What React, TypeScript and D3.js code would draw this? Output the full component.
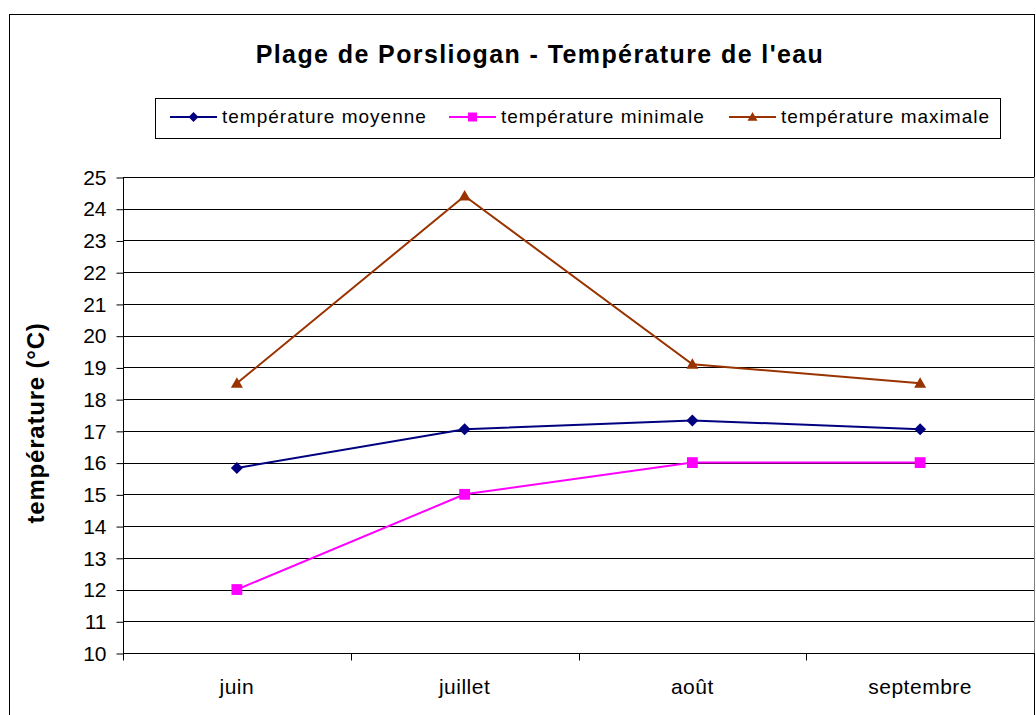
import React, { useEffect, useRef } from 'react';
import * as d3 from 'd3';

const months = ['juin', 'juillet', 'août', 'septembre'];
const moyenne = [15.83, 17.05, 17.33, 17.05];
const minimale = [12, 15, 16, 16];
const maximale = [18.5, 24.4, 19.1, 18.5];
const yTicks = d3.range(10, 26);

const seriesInfo = [
  { name: 'température moyenne', values: moyenne, color: '#000080', marker: 'diamond' },
  { name: 'température minimale', values: minimale, color: '#FF00FF', marker: 'square' },
  { name: 'température maximale', values: maximale, color: '#993300', marker: 'triangle' },
];

const FONT = 'Arial, "Liberation Sans", Helvetica, sans-serif';

const App = () => {
  const svgRef = useRef<SVGSVGElement>(null);

  useEffect(() => {
    const svg = d3.select(svgRef.current);
    svg.selectAll('*').remove();

    // zone du graphique
    const left = 123, right = 1034, top = 177, bottom = 653;

    const x = d3.scaleBand<string>().domain(months).range([left, right]);
    const y = d3.scaleLinear().domain([10, 25]).range([bottom, top]);

    // cadre extérieur
    svg.append('rect')
      .attr('x', 9.5).attr('y', 14.5)
      .attr('width', 1025).attr('height', 720)
      .attr('fill', 'white').attr('stroke', '#000').attr('stroke-width', 1);

    // titre
    svg.append('text')
      .attr('x', 540).attr('y', 63)
      .attr('text-anchor', 'middle')
      .style('font', `bold 25px ${FONT}`)
      .style('letter-spacing', '1.4px')
      .text("Plage de Porsliogan - Température de l'eau");

    // cadre du tracé
    svg.append('rect')
      .attr('x', left + 0.5).attr('y', top + 0.5)
      .attr('width', right - left).attr('height', bottom - top)
      .attr('fill', 'white').attr('stroke', '#808080');

    // lignes de grille
    svg.append('g')
      .selectAll('line')
      .data(yTicks.slice(1))
      .enter().append('line')
      .attr('x1', left).attr('x2', right)
      .attr('y1', d => Math.round(y(d)) + 0.5)
      .attr('y2', d => Math.round(y(d)) + 0.5)
      .attr('stroke', '#000');

    // axe y
    const yAxis = svg.append('g')
      .attr('transform', `translate(${left + 0.5},0.5)`)
      .call(d3.axisLeft(y).tickValues(yTicks).tickSize(7).tickPadding(10).tickFormat(d3.format('d')));
    yAxis.select('.domain').attr('stroke', '#000').attr('d', `M0,${top}V${bottom}`);
    yAxis.selectAll('.tick line').attr('stroke', '#000');
    yAxis.selectAll('.tick text')
      .attr('fill', '#000')
      .style('font', `21px ${FONT}`);

    // axe x
    const xAxis = svg.append('g')
      .attr('transform', `translate(0,${bottom + 0.5})`);
    xAxis.append('line')
      .attr('x1', left).attr('x2', right + 1)
      .attr('stroke', '#000');
    const boundaries = months.map(m => x(m) as number).concat([right]);
    xAxis.selectAll('.xt')
      .data(boundaries)
      .enter().append('line')
      .attr('class', 'xt')
      .attr('x1', d => Math.round(d) + 0.5).attr('x2', d => Math.round(d) + 0.5)
      .attr('y1', 0).attr('y2', 7)
      .attr('stroke', '#000');
    xAxis.selectAll('text')
      .data(months)
      .enter().append('text')
      .attr('x', d => (x(d) as number) + x.bandwidth() / 2)
      .attr('y', 40)
      .attr('text-anchor', 'middle')
      .style('font', `21px ${FONT}`)
      .style('letter-spacing', '0.5px')
      .text(d => d);

    // titre axe y
    svg.append('text')
      .attr('transform', `translate(44,${(top + bottom) / 2 + 8}) rotate(-90)`)
      .attr('text-anchor', 'middle')
      .style('font', `bold 24px ${FONT}`)
      .style('letter-spacing', '0.8px')
      .text('température (°C)');

    const cx = (i: number) => (x(months[i]) as number) + x.bandwidth() / 2;

    const drawMarker = (g: any, kind: string, color: string, px: number, py: number, s: number) => {
      if (kind === 'diamond') {
        g.append('path')
          .attr('d', `M${px},${py - s}L${px + s},${py}L${px},${py + s}L${px - s},${py}Z`)
          .attr('fill', color);
      } else if (kind === 'square') {
        g.append('rect')
          .attr('x', px - s * 0.9).attr('y', py - s * 0.9)
          .attr('width', s * 1.8).attr('height', s * 1.8)
          .attr('fill', color);
      } else {
        g.append('path')
          .attr('d', `M${px},${py - s}L${px + s},${py + s * 0.75}L${px - s},${py + s * 0.75}Z`)
          .attr('fill', color);
      }
    };

    // séries
    const line = d3.line<number>().x((d, i) => cx(i)).y(d => y(d));
    seriesInfo.forEach(s => {
      const g = svg.append('g');
      g.append('path')
        .datum(s.values)
        .attr('d', line)
        .attr('fill', 'none')
        .attr('stroke', s.color)
        .attr('stroke-width', 2);
      s.values.forEach((v, i) => drawMarker(g, s.marker, s.color, cx(i), y(v), 6));
    });

    // légende
    svg.append('rect')
      .attr('x', 155.5).attr('y', 98.5)
      .attr('width', 845).attr('height', 40)
      .attr('fill', 'white').attr('stroke', '#000');
    const legendX = [170, 449, 729];
    seriesInfo.forEach((s, i) => {
      const g = svg.append('g');
      const lx = legendX[i];
      g.append('line')
        .attr('x1', lx).attr('x2', lx + 47)
        .attr('y1', 117).attr('y2', 117)
        .attr('stroke', s.color).attr('stroke-width', 2);
      drawMarker(g, s.marker, s.color, lx + 23.5, 117, 5);
      g.append('text')
        .attr('x', lx + 52).attr('y', 123)
        .style('font', `19px ${FONT}`)
        .style('letter-spacing', '1px')
        .text(s.name);
    });
  }, []);

  return (
    <svg
      ref={svgRef}
      width={1036}
      height={715}
      style={{ position: 'absolute', left: 0, top: 0, background: 'white' }}
    />
  );
};

export default App;
